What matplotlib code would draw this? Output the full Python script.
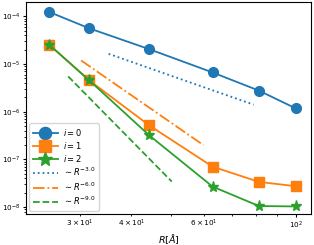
import matplotlib
matplotlib.use("Agg")
import matplotlib.pyplot as plt

# Data
R = [25.3, 31.6, 44.2, 62.9, 81.5, 100.0]
y_i0 = [1.235e-4, 5.62e-5, 2.05e-5, 6.68e-6, 2.77e-6, 1.18e-6]
y_i1 = [2.53e-5, 4.55e-6, 5.15e-7, 7.05e-8, 3.37e-8, 2.74e-8]
y_i2 = [2.53e-5, 4.55e-6, 3.18e-7, 2.69e-8, 1.05e-8, 1.03e-8]

# reference power-law guide lines (end points)
ref3_R = [35.2, 79.1]
ref3_y = [1.64e-5, 1.41e-6]
ref6_R = [30.2, 59.8]
ref6_y = [1.19e-5, 1.99e-7]
ref9_R = [28.1, 50.1]
ref9_y = [5.5e-6, 3.42e-8]

labels = ["$i=0$", "$i=1$", "$i=2$",
          r"$\sim R^{-3.0}$", r"$\sim R^{-6.0}$", r"$\sim R^{-9.0}$"]

plt.rcParams['font.size'] = 6
fig = plt.figure(figsize=(3.14, 2.45), dpi=100)
ax = fig.add_axes([26/314, 1-214/245, (311-26)/314, (214-2.5)/245])

c0, c1, c2 = "#1f77b4", "#ff7f0e", "#2ca02c"
lw = 1.3
ax.plot(R, y_i0, '-o', color=c0, lw=lw, ms=7, label=labels[0])
ax.plot(R, y_i1, '-s', color=c1, lw=lw, ms=7, label=labels[1])
ax.plot(R, y_i2, '-*', color=c2, lw=lw, ms=8, label=labels[2])
ax.plot(ref3_R, ref3_y, ':', color=c0, lw=lw, label=labels[3])
ax.plot(ref6_R, ref6_y, '-.', color=c1, lw=lw, label=labels[4])
ax.plot(ref9_R, ref9_y, '--', color=c2, lw=lw, label=labels[5])

ax.set_xscale('log')
ax.set_yscale('log')
ax.set_xlim(22.2, 109)
ax.set_ylim(10**-8.146, 10**-3.708)
ax.tick_params(labelsize=5.2, which='both', pad=1.5, length=2.5)
ax.tick_params(which='minor', length=1.5)
ax.set_xlabel(r"$R[\AA]$", fontsize=6.8)
ax.xaxis.set_label_coords(0.5, -0.088)
ax.legend(loc='lower left', fontsize=6, handlelength=3.0, labelspacing=0.25,
          markerscale=1.25, borderaxespad=0.4, handletextpad=0.6)

fig.savefig("out.png", dpi=100)
